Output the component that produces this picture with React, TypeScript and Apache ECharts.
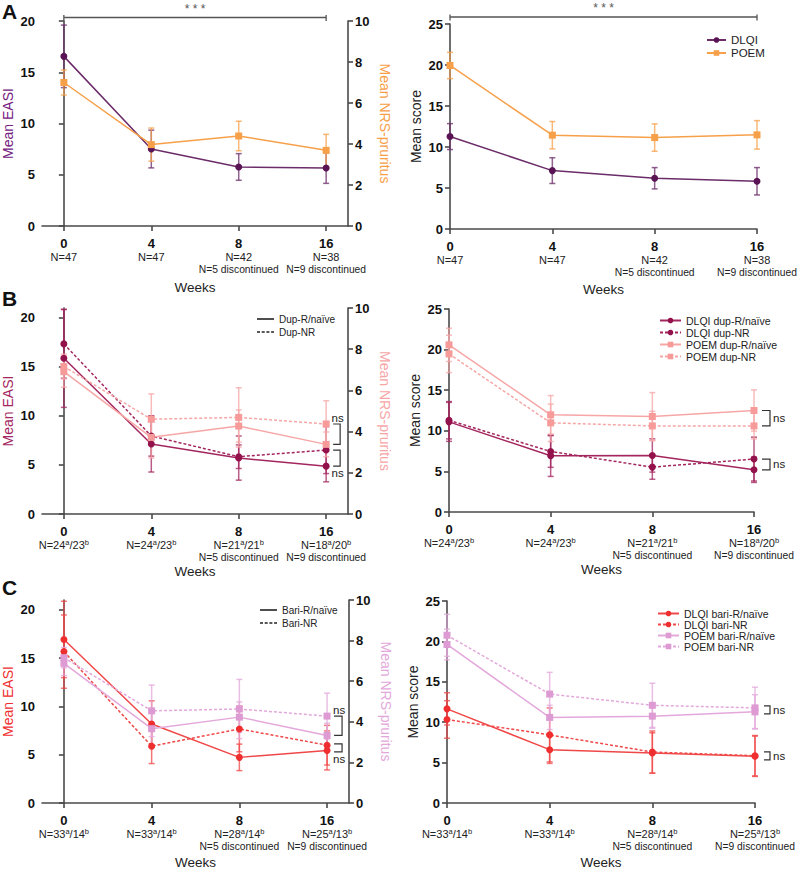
import React, { useEffect, useRef } from 'react';
import * as echarts from 'echarts';

const FONT = '"Liberation Sans", Arial, Helvetica, sans-serif';
const AXIS = '#4a4a4a';

// ---------- categories / tick labels ----------
const weekLabels = ['0', '4', '8', '16'];
const discLabels = ['', '', 'N=5 discontinued', 'N=9 discontinued'];
const nA = ['N=47', 'N=47', 'N=42', 'N=38'];
const nB = [['24', '23'], ['24', '23'], ['21', '21'], ['18', '20']];
const nC = [['33', '14'], ['33', '14'], ['28', '14'], ['25', '13']];

// ---------- Panel A ----------
const easiA = [16.55, 7.51, 5.76, 5.66];
const easiAErr = [3.05, 1.84, 1.3, 1.5];
const nrsA = [7.0, 3.97, 4.39, 3.69];
const nrsAErr = [0.61, 0.81, 0.72, 0.78];
const dlqiA = [11.27, 7.12, 6.19, 5.82];
const dlqiAErr = [1.58, 1.57, 1.3, 1.67];
const poemA = [19.94, 11.44, 11.15, 11.48];
const poemAErr = [1.6, 1.67, 1.67, 1.74];

// ---------- Panel B ----------
const easiDupR = [15.87, 7.13, 5.7, 4.88];
const easiDupRErr = [5.0, 2.85, 2.25, 1.6];
const easiDupNR = [17.34, 7.95, 5.84, 6.52];
const easiDupNRErr = [3.5, 2.05, 1.2, 2.4];
const nrsDupR = [6.91, 3.72, 4.27, 3.38];
const nrsDupRErr = [0.76, 1.0, 0.78, 0.6];
const nrsDupNR = [7.16, 4.6, 4.69, 4.37];
const nrsDupNRErr = [0.6, 1.23, 1.44, 1.13];
const dlqiDupR = [11.1, 6.93, 6.96, 5.2];
const dlqiDupRErr = [2.4, 2.55, 2.05, 1.56];
const dlqiDupNR = [11.3, 7.45, 5.53, 6.52];
const dlqiDupNRErr = [2.3, 1.95, 1.5, 2.7];
const poemDupR = [20.58, 11.97, 11.76, 12.5];
const poemDupRErr = [2.05, 2.37, 2.95, 2.54];
const poemDupNR = [19.47, 10.98, 10.6, 10.6];
const poemDupNRErr = [2.3, 2.3, 1.8, 1.6];

// ---------- Panel C ----------
const easiBariR = [16.92, 8.17, 4.72, 5.44];
const easiBariRErr = [3.95, 2.4, 1.37, 2.02];
const easiBariNR = [15.66, 5.88, 7.66, 5.98];
const easiBariNRErr = [3.79, 1.8, 2.36, 2.05];
const nrsBariR = [6.88, 3.66, 4.23, 3.33];
const nrsBariRErr = [0.6, 0.8, 0.75, 0.6];
const nrsBariNR = [7.16, 4.54, 4.63, 4.28];
const nrsBariNRErr = [0.5, 1.27, 1.46, 1.13];
const dlqiBariR = [11.65, 6.6, 6.19, 5.79];
const dlqiBariRErr = [1.99, 1.7, 2.5, 2.5];
const dlqiBariNR = [10.34, 8.43, 6.31, 5.85];
const dlqiBariNRErr = [2.32, 3.34, 2.6, 2.5];
const poemBariR = [19.62, 10.59, 10.75, 11.28];
const poemBariRErr = [1.9, 1.5, 1.5, 2.12];
const poemBariNR = [20.76, 13.48, 12.09, 11.77];
const poemBariNRErr = [2.6, 2.69, 2.73, 2.56];

// ---------- colours ----------
const PURPLE = '#5a1456';
const PURPLE_LINE = '#6b2c69';
const PURPLE_NAME = '#74207e';
const ORANGE = '#f7a04a';
const MAGENTA = '#94124c';
const MAGENTA_LINE = '#a3265f';
const PINK = '#f69a9a';
const PINK_LINE = '#f7a6a6';
const RED = '#ef2f2f';
const RED_LINE = '#f04848';
const ORCHID = '#dd9ad3';
const ORCHID_LINE = '#e3a8db';

const SOLID_ICON = 'path://M0,0h17v1.6h-17z';
const DASH_ICON = 'path://M0,0h3v1.6h-3zM4.7,0h3v1.6h-3zM9.4,0h3v1.6h-3zM14.1,0h2.9v1.6h-2.9z';

type SDef = {
  name: string; vals: number[]; err: number[]; color: string; line: string;
  sym: 'circle' | 'rect'; dashed?: boolean; right?: boolean;
};
type BDef = { right: boolean; v1: number; v2: number; label: 'above' | 'below' | 'right' };
type Panel = {
  grid: { left: number; top: number; width: number; height: number };
  padded: boolean;
  nLabel: (i: number) => string;
  left: { max: number; name: string; color: string; custom?: boolean };
  right?: { max: number; name: string; color: string };
  series: SDef[];
  legend?: { left: number; top: number; itemWidth: number; fontSize: number; gap: number; names: string[] };
  dummy?: { name: string; dashed: boolean }[];
  brackets?: BDef[];
  bdx?: [number, number];
  stars?: number;
  weeksGap: number;
};

const plainN = (i: number) => `{n|${nA[i]}}`;
const supN = (arr: string[][]) => (i: number) => `{n|N=${arr[i][0]}}{s|a}{n|/${arr[i][1]}}{s|b}`;

const panels: Panel[] = [
  {
    grid: { left: 40, top: 21, width: 308, height: 205 }, padded: true, nLabel: plainN,
    left: { max: 20, name: 'Mean EASI', color: PURPLE_NAME },
    right: { max: 10, name: 'Mean NRS-pruritus', color: ORANGE },
    series: [
      { name: 'EASI', vals: easiA, err: easiAErr, color: PURPLE, line: PURPLE_LINE, sym: 'circle' },
      { name: 'NRS-pruritus', vals: nrsA, err: nrsAErr, color: ORANGE, line: ORANGE, sym: 'rect', right: true },
    ],
    stars: 3.5, weeksGap: 54,
  },
  {
    grid: { left: 450, top: 24, width: 307, height: 205 }, padded: false, nLabel: plainN,
    left: { max: 25, name: 'Mean score', color: '#222' },
    series: [
      { name: 'DLQI', vals: dlqiA, err: dlqiAErr, color: PURPLE, line: PURPLE_LINE, sym: 'circle' },
      { name: 'POEM', vals: poemA, err: poemAErr, color: ORANGE, line: ORANGE, sym: 'rect' },
    ],
    legend: { left: 701, top: 29, itemWidth: 19, fontSize: 11.5, gap: 1, names: ['DLQI', 'POEM'] },
    stars: 7, weeksGap: 53,
  },
  {
    grid: { left: 40, top: 308, width: 308, height: 206 }, padded: true, nLabel: supN(nB),
    left: { max: 21, name: 'Mean EASI', color: MAGENTA_LINE, custom: true },
    right: { max: 10, name: 'Mean NRS-pruritus', color: PINK_LINE },
    series: [
      { name: 'EASI dup-R/naïve', vals: easiDupR, err: easiDupRErr, color: MAGENTA, line: MAGENTA_LINE, sym: 'circle' },
      { name: 'EASI dup-NR', vals: easiDupNR, err: easiDupNRErr, color: MAGENTA, line: MAGENTA_LINE, sym: 'circle', dashed: true },
      { name: 'NRS dup-R/naïve', vals: nrsDupR, err: nrsDupRErr, color: PINK, line: PINK_LINE, sym: 'rect', right: true },
      { name: 'NRS dup-NR', vals: nrsDupNR, err: nrsDupNRErr, color: PINK, line: PINK_LINE, sym: 'rect', right: true, dashed: true },
    ],
    dummy: [{ name: 'Dup-R/naïve', dashed: false }, { name: 'Dup-NR', dashed: true }],
    legend: { left: 252, top: 309, itemWidth: 17, fontSize: 10, gap: 3, names: ['Dup-R/naïve', 'Dup-NR'] },
    brackets: [
      { right: true, v1: nrsDupNR[3], v2: nrsDupR[3], label: 'above' },
      { right: false, v1: easiDupNR[3], v2: easiDupR[3], label: 'below' },
    ],
    bdx: [7, 14], weeksGap: 50,
  },
  {
    grid: { left: 449, top: 309, width: 305, height: 203 }, padded: false, nLabel: supN(nB),
    left: { max: 25, name: 'Mean score', color: '#222' },
    series: [
      { name: 'DLQI dup-R/naïve', vals: dlqiDupR, err: dlqiDupRErr, color: MAGENTA, line: MAGENTA_LINE, sym: 'circle' },
      { name: 'DLQI dup-NR', vals: dlqiDupNR, err: dlqiDupNRErr, color: MAGENTA, line: MAGENTA_LINE, sym: 'circle', dashed: true },
      { name: 'POEM dup-R/naïve', vals: poemDupR, err: poemDupRErr, color: PINK, line: PINK_LINE, sym: 'rect' },
      { name: 'POEM dup-NR', vals: poemDupNR, err: poemDupNRErr, color: PINK, line: PINK_LINE, sym: 'rect', dashed: true },
    ],
    legend: { left: 654, top: 310, itemWidth: 21, fontSize: 10.5, gap: 1, names: ['DLQI dup-R/naïve', 'DLQI dup-NR', 'POEM dup-R/naïve', 'POEM dup-NR'] },
    brackets: [
      { right: false, v1: poemDupR[3], v2: poemDupNR[3], label: 'right' },
      { right: false, v1: dlqiDupNR[3], v2: dlqiDupR[3], label: 'right' },
    ],
    bdx: [8, 16], weeksGap: 50,
  },
  {
    grid: { left: 41, top: 600, width: 308, height: 205 }, padded: true, nLabel: supN(nC),
    left: { max: 21, name: 'Mean EASI', color: RED, custom: true },
    right: { max: 10, name: 'Mean NRS-pruritus', color: ORCHID_LINE },
    series: [
      { name: 'EASI bari-R/naïve', vals: easiBariR, err: easiBariRErr, color: RED, line: RED_LINE, sym: 'circle' },
      { name: 'EASI bari-NR', vals: easiBariNR, err: easiBariNRErr, color: RED, line: RED_LINE, sym: 'circle', dashed: true },
      { name: 'NRS bari-R/naïve', vals: nrsBariR, err: nrsBariRErr, color: ORCHID, line: ORCHID_LINE, sym: 'rect', right: true },
      { name: 'NRS bari-NR', vals: nrsBariNR, err: nrsBariNRErr, color: ORCHID, line: ORCHID_LINE, sym: 'rect', right: true, dashed: true },
    ],
    dummy: [{ name: 'Bari-R/naïve', dashed: false }, { name: 'Bari-NR', dashed: true }],
    legend: { left: 255, top: 600, itemWidth: 17, fontSize: 10, gap: 3, names: ['Bari-R/naïve', 'Bari-NR'] },
    brackets: [
      { right: true, v1: nrsBariNR[3], v2: nrsBariR[3], label: 'above' },
      { right: false, v1: easiBariNR[3], v2: easiBariR[3], label: 'below' },
    ],
    bdx: [7, 15], weeksGap: 52,
  },
  {
    grid: { left: 447, top: 601, width: 308, height: 205 }, padded: false, nLabel: supN(nC),
    left: { max: 25, name: 'Mean score', color: '#222' },
    series: [
      { name: 'DLQI bari-R/naïve', vals: dlqiBariR, err: dlqiBariRErr, color: RED, line: RED_LINE, sym: 'circle' },
      { name: 'DLQI bari-NR', vals: dlqiBariNR, err: dlqiBariNRErr, color: RED, line: RED_LINE, sym: 'circle', dashed: true },
      { name: 'POEM bari-R/naïve', vals: poemBariR, err: poemBariRErr, color: ORCHID, line: ORCHID_LINE, sym: 'rect' },
      { name: 'POEM bari-NR', vals: poemBariNR, err: poemBariNRErr, color: ORCHID, line: ORCHID_LINE, sym: 'rect', dashed: true },
    ],
    legend: { left: 652, top: 603, itemWidth: 21, fontSize: 10.5, gap: 0, names: ['DLQI bari-R/naïve', 'DLQI bari-NR', 'POEM bari-R/naïve', 'POEM bari-NR'] },
    brackets: [
      { right: false, v1: poemBariNR[3], v2: poemBariR[3], label: 'right' },
      { right: false, v1: dlqiBariNR[3], v2: dlqiBariR[3], label: 'right' },
    ],
    bdx: [9, 15], weeksGap: 52,
  },
];

function buildOption() {
  const grid: any[] = [];
  const xAxis: any[] = [];
  const yAxis: any[] = [];
  const series: any[] = [];
  const legend: any[] = [];

  panels.forEach((p, g) => {
    grid.push({ ...p.grid, containLabel: false });
    xAxis.push({
      type: 'value', gridIndex: g,
      min: p.padded ? -0.25 : 0, max: p.padded ? 3.25 : 3,
      axisLine: { show: true, onZero: false, lineStyle: { color: AXIS, width: 1.6 } },
      axisTick: { show: true, customValues: [0, 1, 2, 3], length: 5, lineStyle: { color: AXIS, width: 1.6 } },
      splitLine: { show: false },
      axisLabel: {
        customValues: [0, 1, 2, 3], margin: 10,
        formatter: (v: number) => {
          const i = Math.round(v);
          let s = `{w|${weekLabels[i]}}\n${p.nLabel(i)}`;
          if (discLabels[i]) s += `\n{d|${discLabels[i]}}`;
          return s;
        },
        rich: {
          w: { fontSize: 13, fontWeight: 'bold', color: '#111', lineHeight: 14, fontFamily: FONT },
          n: { fontSize: 11, color: '#222', lineHeight: 13, fontFamily: FONT },
          s: { fontSize: 7.5, color: '#222', lineHeight: 7, verticalAlign: 'top', fontFamily: FONT },
          d: { fontSize: 10.3, color: '#222', lineHeight: 12, fontFamily: FONT },
        },
      },
      name: 'Weeks', nameLocation: 'middle', nameGap: p.weeksGap,
      nameTextStyle: { fontSize: 13.5, color: '#222', fontFamily: FONT },
    });
    const leftIdx = yAxis.length;
    const leftAxis: any = {
      type: 'value', gridIndex: g, position: 'left', min: 0, max: p.left.max,
      axisLine: { show: true, lineStyle: { color: AXIS, width: 1.6 } },
      axisTick: { show: true, length: 5, lineStyle: { color: AXIS, width: 1.6 } },
      splitLine: { show: false },
      axisLabel: { fontSize: 13, fontWeight: 'bold', color: '#111', margin: 7, fontFamily: FONT },
      name: p.left.name, nameLocation: 'middle', nameRotate: 90, nameGap: 27,
      nameTextStyle: { fontSize: 14, color: p.left.color, fontFamily: FONT },
    };
    if (p.left.custom) {
      leftAxis.axisTick.customValues = [0, 5, 10, 15, 20];
      leftAxis.axisLabel.customValues = [0, 5, 10, 15, 20];
    } else {
      leftAxis.interval = 5;
    }
    yAxis.push(leftAxis);
    let rightIdx = leftIdx;
    if (p.right) {
      rightIdx = yAxis.length;
      yAxis.push({
        type: 'value', gridIndex: g, position: 'right', min: 0, max: p.right.max, interval: 2,
        axisLine: { show: true, lineStyle: { color: AXIS, width: 1.6 } },
        axisTick: { show: true, length: 5, lineStyle: { color: AXIS, width: 1.6 } },
        splitLine: { show: false },
        axisLabel: { fontSize: 13, fontWeight: 'bold', color: '#111', margin: 7, fontFamily: FONT },
        name: p.right.name, nameLocation: 'middle', nameRotate: -90, nameGap: 30,
        nameTextStyle: { fontSize: 14, color: p.right.color, fontFamily: FONT },
      });
    }

    p.series.forEach((s) => {
      const yi = s.right ? rightIdx : leftIdx;
      series.push({
        type: 'custom', xAxisIndex: g, yAxisIndex: yi, silent: true, z: 2,
        data: s.vals.map((v, i) => [i, v - s.err[i], v + s.err[i]]),
        encode: { x: 0, y: [1, 2] },
        renderItem: (params: any, api: any) => {
          const x = api.value(0);
          const lo = api.coord([x, api.value(1)]);
          const hi = api.coord([x, api.value(2)]);
          const st = { stroke: s.line, lineWidth: 1.5, opacity: 0.75 };
          const w = 3;
          return {
            type: 'group',
            children: [
              { type: 'line', shape: { x1: hi[0], y1: hi[1], x2: lo[0], y2: lo[1] }, style: st },
              { type: 'line', shape: { x1: hi[0] - w, y1: hi[1], x2: hi[0] + w, y2: hi[1] }, style: st },
              { type: 'line', shape: { x1: lo[0] - w, y1: lo[1], x2: lo[0] + w, y2: lo[1] }, style: st },
            ],
          };
        },
      });
      series.push({
        type: 'line', name: s.name, xAxisIndex: g, yAxisIndex: yi, z: 3,
        data: s.vals.map((v, i) => [i, v]),
        symbol: s.sym, symbolSize: 7,
        lineStyle: { color: s.line, width: 1.5, type: s.dashed ? [3, 2] : 'solid' },
        itemStyle: { color: s.color },
        emphasis: { disabled: true },
      });
    });

    (p.dummy || []).forEach((d) => {
      series.push({
        type: 'line', name: d.name, xAxisIndex: g, yAxisIndex: leftIdx, data: [],
        symbol: 'none', lineStyle: { color: '#222', width: 1.6, type: d.dashed ? [3, 2] : 'solid' },
        itemStyle: { color: '#222' },
      });
    });

    if (p.legend) {
      const isDummy = !!p.dummy;
      legend.push({
        orient: 'vertical', left: p.legend.left, top: p.legend.top,
        itemWidth: p.legend.itemWidth, itemHeight: isDummy ? 1.6 : 7, itemGap: p.legend.gap,
        selectedMode: false,
        data: isDummy
          ? (p.dummy || []).map((d) => ({ name: d.name, icon: d.dashed ? DASH_ICON : SOLID_ICON, itemStyle: { color: '#222' } }))
          : p.legend.names,
        textStyle: { fontSize: p.legend.fontSize, color: '#222', fontFamily: FONT },
      });
    }

    (p.brackets || []).forEach((b) => {
      const yi = b.right ? rightIdx : leftIdx;
      const [dx1, dx2] = p.bdx || [7, 14];
      series.push({
        type: 'custom', xAxisIndex: g, yAxisIndex: yi, silent: true, z: 4,
        data: [[3, b.v1, b.v2]],
        renderItem: (params: any, api: any) => {
          const p1 = api.coord([api.value(0), api.value(1)]);
          const p2 = api.coord([api.value(0), api.value(2)]);
          let y1 = Math.min(p1[1], p2[1]);
          let y2 = Math.max(p1[1], p2[1]);
          if (y2 - y1 < 8) { const m = (y1 + y2) / 2; y1 = m - 4; y2 = m + 4; }
          const xa = p1[0] + dx1;
          const xb = p1[0] + dx2;
          const st = { stroke: '#333', lineWidth: 1.2, fill: 'none' };
          let tx = (xa + xb) / 2 + 1; let ty = y1 - 6; let align = 'center';
          if (b.label === 'below') ty = y2 + 7;
          if (b.label === 'right') { tx = xb + 3; ty = (y1 + y2) / 2; align = 'left'; }
          return {
            type: 'group',
            children: [
              { type: 'polyline', shape: { points: [[xa, y1], [xb, y1], [xb, y2], [xa, y2]] }, style: st },
              { type: 'text', x: tx, y: ty, style: { text: 'ns', fontSize: 11.5, fill: '#222', align, verticalAlign: 'middle', fontFamily: FONT } },
            ],
          };
        },
      });
    });

    if (p.stars !== undefined) {
      const off = p.stars;
      series.push({
        type: 'custom', xAxisIndex: g, yAxisIndex: leftIdx, silent: true, z: 4,
        data: [[0, 3]],
        renderItem: (params: any, api: any) => {
          const xa = api.coord([api.value(0), 0])[0];
          const xb = api.coord([api.value(1), 0])[0];
          const y = params.coordSys.y - off;
          const st = { stroke: '#555', lineWidth: 1.3 };
          return {
            type: 'group',
            children: [
              { type: 'line', shape: { x1: xa, y1: y, x2: xb, y2: y }, style: st },
              { type: 'line', shape: { x1: xa, y1: y - 2.5, x2: xa, y2: y + 3.5 }, style: st },
              { type: 'line', shape: { x1: xb, y1: y - 2.5, x2: xb, y2: y + 3.5 }, style: st },
              { type: 'text', x: (xa + xb) / 2, y: y - 9, style: { text: '* * *', fontSize: 12, fill: '#555', align: 'center', verticalAlign: 'middle', fontFamily: FONT } },
            ],
          };
        },
      });
    }
  });

  const letters = [
    { t: 'A', y: 1 },
    { t: 'B', y: 288 },
    { t: 'C', y: 577 },
  ];

  return {
    animation: false,
    backgroundColor: '#ffffff',
    textStyle: { fontFamily: FONT },
    grid, xAxis, yAxis, series, legend,
    graphic: letters.map((l) => ({
      type: 'text', left: 2, top: l.y,
      style: { text: l.t, fontSize: 21, fontWeight: 'bold', fill: '#111', fontFamily: FONT },
    })),
  };
}

export default function App() {
  const ref = useRef<HTMLDivElement>(null);
  useEffect(() => {
    if (!ref.current) return;
    const chart = echarts.init(ref.current, undefined, { renderer: 'svg' });
    chart.setOption(buildOption() as any);
    return () => chart.dispose();
  }, []);
  return (
    <div
      ref={ref}
      style={{ position: 'absolute', left: 0, top: 0, width: 800, height: 870, background: '#fff' }}
    />
  );
}
